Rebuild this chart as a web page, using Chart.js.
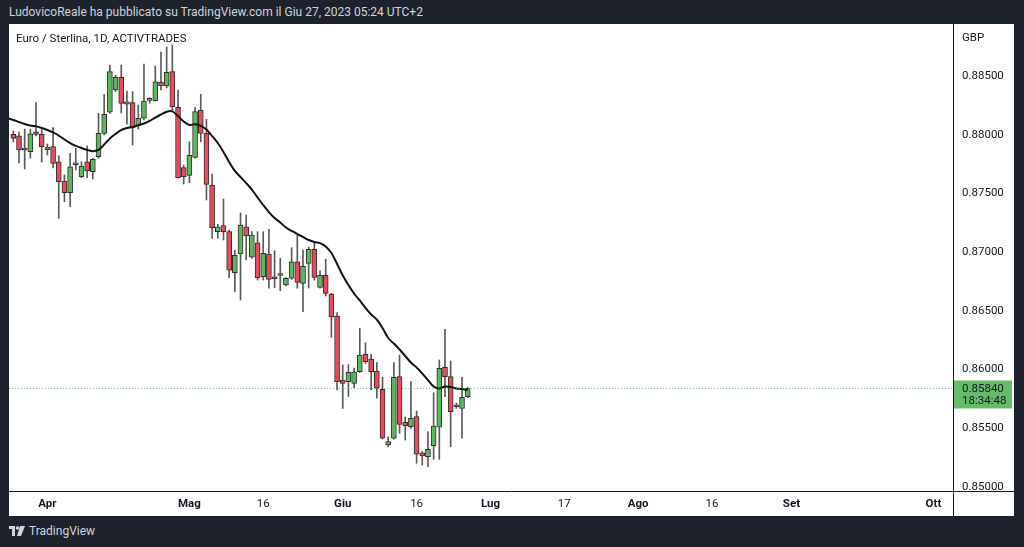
<!DOCTYPE html>
<html>
<head>
<meta charset="utf-8">
<script src="https://cdn.jsdelivr.net/npm/chart.js@4.4.0/dist/chart.umd.min.js"></script>
<style>
  body { margin: 0; width: 1024px; height: 547px; background: #1e222d; overflow: hidden; font-family: Roboto, "Noto Sans", sans-serif; position: relative; }
  #header { position: absolute; left: 9px; top: 5px; font-size: 12px; color: #d1d4dc; white-space: nowrap; }
  #panel { position: absolute; left: 9px; top: 24px; width: 1005px; height: 492px; background: #fff; }
  #title { position: absolute; left: 7px; top: 7px; font-size: 11.5px; color: #131722; }
  #unit { position: absolute; left: 953px; top: 6px; font-size: 11.5px; color: #131722; }
  #logo { position: absolute; left: 9px; top: 524px; font-size: 12px; color: #d1d4dc; display: flex; align-items: center; gap: 4px; }
  canvas { position: absolute; left: 0; top: 0; }
</style>
</head>
<body>
<div id="header">LudovicoReale ha pubblicato su TradingView.com il Giu 27, 2023 05:24 UTC+2</div>
<div id="panel">
  <canvas id="myChart" width="1005" height="492"></canvas>
  <div id="title">Euro / Sterlina, 1D, ACTIVTRADES</div>
  <div id="unit">GBP</div>
</div>
<div id="logo">
  <svg width="16" height="10" viewBox="0 0 16 10"><path d="M0 0h6v10H3V3H0z" fill="#d1d4dc"/><circle cx="8.5" cy="2" r="1.8" fill="#d1d4dc"/><path d="M11 0h5l-4 10H8z" fill="#d1d4dc"/></svg>
  <span>TradingView</span>
</div>
<script>
// daily bars from 26 Mar to 27 Jun 2023 (x = bar index)
const open = [0.88004, 0.87992, 0.87873, 0.87856, 0.88026, 0.88004, 0.87873, 0.87899, 0.87771, 0.87606,
  0.87507, 0.87745, 0.87643, 0.87771, 0.87686, 0.87813, 0.88013, 0.88192, 0.88382, 0.88490,
  0.88262, 0.88274, 0.88075, 0.88141, 0.88294, 0.88291, 0.88450, 0.88416, 0.88538, 0.88234,
  0.87720, 0.87655, 0.87808, 0.88211, 0.88013, 0.87572, 0.87175, 0.87226, 0.87175, 0.86825,
  0.86985, 0.87217, 0.86957, 0.87081, 0.86791, 0.86985, 0.86772, 0.86802, 0.86721, 0.86778,
  0.86919, 0.86735, 0.86905, 0.87025, 0.86701, 0.86803, 0.86644, 0.86457, 0.85911, 0.85897,
  0.85883, 0.85982, 0.86130, 0.86090, 0.85988, 0.85832, 0.85358, 0.85415, 0.85940, 0.85551,
  0.85514, 0.85599, 0.85292, 0.85258, 0.85352, 0.85509, 0.86020, 0.85940, 0.85684, 0.85670,
  0.85769];
const high = [0.88032, 0.88024, 0.88049, 0.88049, 0.88275, 0.88044, 0.87922, 0.88061, 0.87822, 0.87658,
  0.87842, 0.87885, 0.87771, 0.87907, 0.87800, 0.88183, 0.88345, 0.88595, 0.88509, 0.88595,
  0.88373, 0.88367, 0.88254, 0.88603, 0.88316, 0.88586, 0.88705, 0.88748, 0.88765, 0.88382,
  0.87743, 0.87941, 0.88234, 0.88345, 0.88132, 0.87666, 0.87238, 0.87453, 0.87189, 0.87019,
  0.87334, 0.87317, 0.87175, 0.87175, 0.87175, 0.87195, 0.87013, 0.86948, 0.86785, 0.87038,
  0.87147, 0.87019, 0.87044, 0.87087, 0.86842, 0.86940, 0.86650, 0.86485, 0.86039, 0.86043,
  0.86014, 0.86352, 0.86229, 0.86130, 0.86059, 0.85934, 0.85428, 0.86059, 0.86124, 0.85596,
  0.85897, 0.85647, 0.85301, 0.85471, 0.85803, 0.86082, 0.86343, 0.86073, 0.85716, 0.85934,
  0.85849];
const low = [0.87939, 0.87760, 0.87709, 0.87802, 0.87990, 0.87768, 0.87828, 0.87717, 0.87289, 0.87430,
  0.87388, 0.87700, 0.87635, 0.87635, 0.87624, 0.87800, 0.87998, 0.88183, 0.88367, 0.88186,
  0.88092, 0.87913, 0.88049, 0.88126, 0.88268, 0.88288, 0.88382, 0.88401, 0.88197, 0.87632,
  0.87581, 0.87592, 0.87802, 0.87941, 0.87445, 0.87118, 0.87118, 0.87104, 0.86783, 0.86664,
  0.86593, 0.86934, 0.86948, 0.86763, 0.86763, 0.86693, 0.86699, 0.86672, 0.86712, 0.86769,
  0.86693, 0.86493, 0.86695, 0.86763, 0.86693, 0.86627, 0.86275, 0.85826, 0.85669, 0.85771,
  0.85843, 0.85975, 0.86052, 0.85826, 0.85756, 0.85409, 0.85343, 0.85409, 0.85457, 0.85400,
  0.85500, 0.85202, 0.85187, 0.85173, 0.85236, 0.85236, 0.85769, 0.85343, 0.85670, 0.85417,
  0.85761];
const close = [0.87970, 0.87871, 0.87870, 0.88009, 0.88004, 0.87899, 0.87896, 0.87757, 0.87601, 0.87507,
  0.87728, 0.87749, 0.87734, 0.87692, 0.87791, 0.88013, 0.88175, 0.88538, 0.88490, 0.88268,
  0.88282, 0.88064, 0.88141, 0.88288, 0.88297, 0.88452, 0.88416, 0.88532, 0.88239, 0.87635,
  0.87643, 0.87825, 0.88197, 0.88013, 0.87578, 0.87209, 0.87217, 0.87175, 0.86848, 0.86974,
  0.87232, 0.87138, 0.87147, 0.86783, 0.86991, 0.86769, 0.86791, 0.86804, 0.86778, 0.86919,
  0.86742, 0.86880, 0.87025, 0.86786, 0.86803, 0.86650, 0.86448, 0.85897, 0.85883, 0.85977,
  0.85982, 0.86124, 0.86067, 0.85982, 0.85841, 0.85417, 0.85386, 0.85934, 0.85534, 0.85520,
  0.85585, 0.85279, 0.85264, 0.85321, 0.85520, 0.86011, 0.85940, 0.85641, 0.85698, 0.85764,
  0.85840];
// moving average line, first value is the bar before the window
const maStart = -1;
const ma = [0.88141,
  0.88126, 0.88109, 0.88092, 0.88079, 0.88072, 0.88058, 0.88041, 0.88020, 0.87994, 0.87960,
  0.87930, 0.87906, 0.87888, 0.87872, 0.87860, 0.87871, 0.87917, 0.87969, 0.88007, 0.88041,
  0.88058, 0.88066, 0.88082, 0.88096, 0.88118, 0.88147, 0.88173, 0.88197, 0.88200, 0.88160,
  0.88113, 0.88084, 0.88090, 0.88077, 0.88045, 0.87990, 0.87930, 0.87854, 0.87768, 0.87692,
  0.87641, 0.87589, 0.87534, 0.87466, 0.87402, 0.87342, 0.87291, 0.87253, 0.87210, 0.87181,
  0.87155, 0.87130, 0.87104, 0.87087, 0.87078, 0.87049, 0.86993, 0.86900, 0.86802, 0.86721,
  0.86648, 0.86589, 0.86525, 0.86469, 0.86427, 0.86354, 0.86269, 0.86222, 0.86171, 0.86116,
  0.86060, 0.86018, 0.85967, 0.85911, 0.85856, 0.85839, 0.85856, 0.85852, 0.85839, 0.85835,
  0.85826];

const xTickPos = [6, 31, 44, 58, 71, 84, 97, 110, 123, 137, 162];
const xTickLabels = ["Apr", "Mag", "16", "Giu", "16", "Lug", "17", "Ago", "16", "Set", "Ott"];
const xTickBold = [true, true, false, true, false, true, false, true, false, true, true];
const yTicks = [0.850, 0.855, 0.860, 0.865, 0.870, 0.875, 0.880, 0.885];
const countdown = "18:34:48";

const upColor = '#5cb85f';
const downColor = '#ea4a5c';
const candleColors = open.map((o, i) => close[i] >= o ? upColor : downColor);

const frame = {
  id: 'frame',
  afterDraw(chart) {
    const c = chart.ctx, a = chart.chartArea, y = chart.scales.y;
    const last = close[close.length - 1];
    const py = Math.round(y.getPixelForValue(last)) + 0.5;
    c.save();
    // last price dotted line
    c.strokeStyle = 'rgba(76,175,80,0.75)';
    c.lineWidth = 1;
    c.setLineDash([1, 2]);
    c.beginPath(); c.moveTo(a.left, py); c.lineTo(a.right, py); c.stroke();
    c.setLineDash([]);
    // axis lines
    c.strokeStyle = '#131722';
    c.beginPath();
    c.moveTo(0, a.bottom + 0.5); c.lineTo(chart.width, a.bottom + 0.5);
    c.moveTo(a.right + 0.5, 0); c.lineTo(a.right + 0.5, chart.height);
    c.stroke();
    // price label
    c.fillStyle = '#66bb6a';
    c.fillRect(a.right + 1, py - 8, 58, 28);
    c.fillStyle = '#131722';
    c.font = '11.5px Roboto';
    c.textBaseline = 'middle';
    c.fillText(last.toFixed(5), a.right + 9, py + 0.5);
    c.fillText(countdown, a.right + 9, py + 12.5);
    c.restore();
  }
};

const ctx = document.getElementById('myChart').getContext('2d');
const chart = new Chart(ctx, {
  type: 'bar',
  data: {
    datasets: [
      {
        type: 'line',
        label: 'MA',
        data: ma.map((v, i) => ({ x: i + maStart, y: v })),
        borderColor: '#131313',
        borderWidth: 2,
        pointRadius: 0,
        tension: 0.3
      },
      {
        label: 'body',
        data: open.map((o, i) => ({ x: i, y: [o, close[i]] })),
        backgroundColor: candleColors,
        borderColor: '#2e2e2e',
        borderWidth: 1,
        borderSkipped: false,
        barThickness: 5,
        minBarLength: 2,
        grouped: false
      },
      {
        label: 'wick',
        data: low.map((l, i) => ({ x: i, y: [l, high[i]] })),
        backgroundColor: '#5a5a5a',
        barThickness: 1,
        grouped: false
      }
    ]
  },
  options: {
    responsive: false,
    animation: false,
    layout: { padding: 0 },
    plugins: { legend: { display: false }, tooltip: { enabled: false } },
    scales: {
      x: {
        type: 'linear',
        min: -0.76,
        max: 165.44,
        offset: false,
        grid: { display: false, drawTicks: false },
        border: { display: false },
        afterBuildTicks: s => { s.ticks = xTickPos.map(v => ({ value: v })); },
        afterFit: s => { s.height = 25; s.paddingLeft = 0; s.paddingRight = 0; },
        ticks: {
          autoSkip: false,
          maxRotation: 0,
          padding: 6,
          color: '#131722',
          font: c => ({ family: 'Roboto', size: 11.5, weight: xTickBold[c.index] ? 'bold' : 'normal' }),
          callback: (v, i) => xTickLabels[i]
        }
      },
      y: {
        position: 'right',
        min: 0.84966,
        max: 0.88944,
        grid: { display: false, drawTicks: false },
        border: { display: false },
        afterBuildTicks: s => { s.ticks = yTicks.map(v => ({ value: v })); },
        afterFit: s => { s.width = 61; s.paddingTop = 0; s.paddingBottom = 0; },
        ticks: {
          autoSkip: false,
          padding: 9,
          color: '#131722',
          font: { family: 'Roboto', size: 11.5 },
          callback: v => v.toFixed(5)
        }
      }
    }
  },
  plugins: [frame]
});
</script>
</body>
</html>
